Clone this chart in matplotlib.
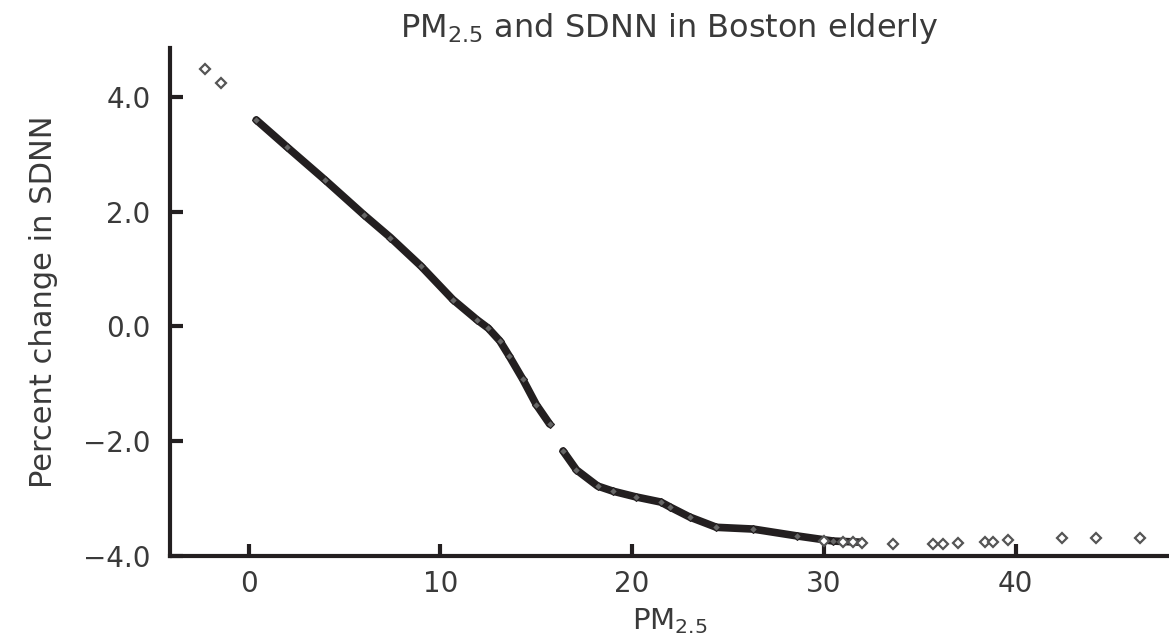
import matplotlib
matplotlib.use("Agg")
import matplotlib.pyplot as plt

# outliers at low PM2.5
low_x = [-2.25, -1.45]
low_y = [4.49, 4.24]

# dense band, part 1 (left of the gap)
band1_x = [0.4, 2.0, 4.0, 6.0, 7.4, 9.0, 10.65, 11.9, 12.5, 13.1, 13.6, 14.3, 15.0, 15.7]
band1_y = [3.60, 3.13, 2.55, 1.95, 1.55, 1.05, 0.47, 0.12, -0.03, -0.25, -0.52, -0.92, -1.36, -1.70]

# dense band, part 2 (right of the gap)
band2_x = [16.4, 17.1, 18.2, 19.0, 20.2, 21.5, 22.0, 23.0, 24.4, 26.3, 28.6, 30.5, 32.0]
band2_y = [-2.17, -2.50, -2.78, -2.87, -2.97, -3.06, -3.15, -3.32, -3.50, -3.53, -3.65, -3.74, -3.76]

# sparse points at high PM2.5
high_x = [30.0, 31.0, 31.5, 32.0, 33.6, 35.7, 36.2, 37.0, 38.4, 38.8, 39.6, 42.4, 44.2, 46.5]
high_y = [-3.74, -3.76, -3.75, -3.77, -3.79, -3.79, -3.79, -3.78, -3.75, -3.75, -3.72, -3.69, -3.69, -3.69]

xticks = [0, 10, 20, 30, 40]
yticks = [4.0, 2.0, 0.0, -2.0, -4.0]
ytick_labels = ["4.0", "2.0", "0.0", "\u22122.0", "\u22124.0"]

ink = "#231f20"
txt = "#3a3a3a"

fig = plt.figure(figsize=(11.69, 6.43), dpi=100)
ax = fig.add_axes([0.1454, 0.1353, 0.8546, 0.7897])

ax.plot(band1_x, band1_y, color=ink, lw=5.5, solid_capstyle="round")
ax.plot(band2_x, band2_y, color=ink, lw=5.5, solid_capstyle="round")
ax.plot(band1_x + band2_x, band1_y + band2_y, ls="none", marker="D", ms=4.5,
        mfc="#666666", mec=ink, mew=0.8)
ax.plot(low_x, low_y, ls="none", marker="D", ms=5, mfc="white", mec="#555555", mew=1.6)
ax.plot(high_x, high_y, ls="none", marker="D", ms=5, mfc="white", mec="#555555", mew=1.6)

ax.set_xlim(-4.1, 48.0)
ax.set_ylim(-4.0, 4.85)
ax.set_xticks(xticks)
ax.set_yticks(yticks)
ax.set_yticklabels(ytick_labels)

for s in ["top", "right"]:
    ax.spines[s].set_visible(False)
for s in ["left", "bottom"]:
    ax.spines[s].set_linewidth(3)
    ax.spines[s].set_color(ink)

ax.tick_params(direction="in", length=9, width=3, color=ink, labelsize=20,
               labelcolor=txt)
ax.tick_params(axis="y", pad=14)
ax.tick_params(axis="x", pad=10)

ax.set_title("PM$_{2.5}$ and SDNN in Boston elderly", fontsize=23, color=txt, pad=8)
ax.set_xlabel("PM$_{2.5}$", fontsize=21, color=txt, labelpad=6)
ax.set_ylabel("Percent change in SDNN", fontsize=22, color=txt, labelpad=18)

fig.savefig("out.png", dpi=100)
